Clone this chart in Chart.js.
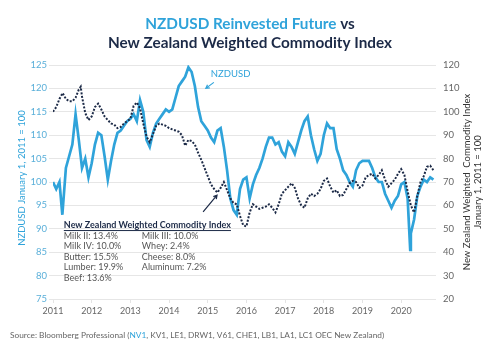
<!DOCTYPE html>
<html>
<head>
<meta charset="utf-8">
<script src="https://cdn.jsdelivr.net/npm/chart.js@4"></script>
<style>
  html, body { margin: 0; padding: 0; background: #fff; }
  #wrap { width: 500px; height: 347px; }
</style>
</head>
<body>
<div id="wrap"><canvas id="chart" width="500" height="347"></canvas></div>
<script>
// x ticks
const yearTicks = [2011, 2012, 2013, 2014, 2015, 2016, 2017, 2018, 2019, 2020];

// NZDUSD reinvested future (left axis), month offsets from Jan 2011
const nzdMonths = [0, 1, 2, 2.9, 4, 5, 6, 7, 8, 9, 10, 11, 12, 13, 14, 15, 16, 17, 18, 19,
  20, 21, 22, 23, 24, 25, 26, 27, 28, 29, 30, 31, 32, 33, 34, 35, 36, 37, 38, 39,
  40, 41, 42, 43, 44, 45, 46, 47, 48, 49, 50, 51, 52, 53, 54, 55, 56, 57, 58, 59,
  60, 61, 62, 63, 64, 65, 66, 67, 68, 69, 70, 71, 72, 73, 74, 75, 76, 77, 78, 79,
  80, 81, 82, 83, 84, 85, 86, 87, 88, 89, 90, 91, 92, 93, 94, 95, 96, 97, 98, 99,
  100, 101, 102, 103, 104, 105, 106, 107, 108, 109, 110, 110.8, 111, 112, 113, 114, 115, 116, 117, 118];
const nzdValues = [100, 98.5, 100, 93, 103, 105.5, 108, 114.5, 109, 103, 105, 101, 104, 108, 110.5, 110, 105.5, 100.5, 104.5, 108,
  110.5, 111, 112, 113, 113.5, 114.5, 113, 117.5, 115, 109, 107.5, 110.5, 112.5, 113.5, 114.5, 115.5, 115, 115.5, 118, 120.5,
  121.5, 122.5, 124.5, 123.5, 120.5, 116, 113, 112, 111, 109.5, 108.5, 111, 111.5, 107.5, 102.5, 96.5, 94, 93, 98.5, 100.5,
  101, 96.5, 99.5, 101.5, 103, 105, 107.5, 109.5, 109.5, 108, 108.5, 106.5, 105.5, 108.5, 107.5, 106, 108.5, 111, 113, 114,
  110, 107, 104.5, 106, 110, 112.5, 111.5, 111.5, 107, 105, 102.5, 101.5, 100, 99, 102.5, 104, 104.5, 104.5, 104.5, 103,
  101, 100, 100, 97.5, 96, 94.5, 96, 97, 99.5, 100, 96.5, 85.5, 89, 92, 97, 99, 100.5, 100, 101, 100.5];

// NZ weighted commodity index (right axis)
const cmdMonths = [0, 1, 2, 3, 4, 5, 6, 7, 8, 8.6, 9, 10, 11, 12, 13, 14, 15, 16, 17, 18, 19,
  20, 21, 22, 23, 24, 25, 26, 27, 28, 29, 30, 31, 32, 33, 34, 35, 36, 37, 38, 39,
  40, 41, 42, 43, 44, 45, 46, 47, 48, 49, 50, 51, 52, 53, 54, 55, 56, 57, 58, 59,
  60, 61, 62, 63, 64, 65, 66, 67, 68, 69, 70, 71, 72, 73, 74, 75, 76, 77, 78, 79,
  80, 81, 82, 83, 84, 85, 86, 87, 88, 89, 90, 91, 92, 93, 94, 95, 96, 97, 98, 99,
  100, 101, 102, 103, 104, 105, 106, 107, 108, 109, 110, 111, 112, 113, 114, 115, 116, 117, 118];
const cmdValues = [100, 102, 105.5, 108, 105.5, 104.5, 104.5, 106, 109.5, 110.7, 106.5, 99.5, 96.5, 98, 102, 103.5, 101, 98, 96.5, 95, 94.5,
  93, 93.5, 95, 96, 97, 102.5, 104, 101.5, 95, 89.5, 87, 90.5, 94, 95, 94.5, 94, 93, 92.5, 92, 91.5,
  90, 85.5, 88, 87.5, 86, 82.5, 79.5, 76, 72.5, 69, 67, 65.5, 67.5, 70, 66.5, 63, 61, 60.5, 55.5, 51.5,
  51, 57, 60.5, 59.5, 58.5, 59, 59.5, 60.5, 59, 57, 60.5, 65, 66.5, 68, 69.5, 67.5, 63, 60, 59, 63,
  65, 64, 65, 67, 70.5, 71.5, 68, 65.5, 66.5, 64, 64.5, 67, 69.5, 70.5, 70, 67.5, 68.5, 72, 73, 73.5,
  71.5, 73, 75, 71, 68, 69.5, 71, 73.5, 75.5, 73, 66, 60, 57, 64, 70, 72.5, 76.5, 77, 75];

// basket text
const basketCol1 = ['Milk II: 13.4%', 'Milk IV: 10.0%', 'Butter: 15.5%', 'Lumber: 19.9%', 'Beef: 13.6%'];
const basketCol2 = ['Milk III: 10.0%', 'Whey: 2.4%', 'Cheese: 8.0%', 'Aluminum: 7.2%'];

const BLUE = '#2fa3da';
const NAVY = '#1c2a47';
const GREY = '#666';
const FONT = 'Lato, "Open Sans", sans-serif';

const toPoints = (months, values) => months.map((m, i) => ({ x: 2011 + m / 12, y: values[i] }));

function arrow(ctx, x1, y1, x2, y2, color) {
  const a = Math.atan2(y2 - y1, x2 - x1);
  ctx.save();
  ctx.strokeStyle = color;
  ctx.lineWidth = 1.2;
  ctx.beginPath();
  ctx.moveTo(x1, y1);
  ctx.lineTo(x2, y2);
  ctx.moveTo(x2 - 4 * Math.cos(a - 0.5), y2 - 4 * Math.sin(a - 0.5));
  ctx.lineTo(x2, y2);
  ctx.lineTo(x2 - 4 * Math.cos(a + 0.5), y2 - 4 * Math.sin(a + 0.5));
  ctx.stroke();
  ctx.restore();
}

const decor = {
  id: 'decor',
  afterDraw(chart) {
    const { ctx, scales } = chart;
    const x = scales.x, y = scales.y, y2 = scales.y2;
    ctx.save();

    // title
    ctx.textBaseline = 'middle';
    ctx.font = 'bold 15.3px ' + FONT;
    const t1a = 'NZDUSD Reinvested Future', t1b = ' vs';
    const w1 = ctx.measureText(t1a + t1b).width;
    let sx = 250 - w1 / 2;
    ctx.textAlign = 'left';
    ctx.fillStyle = BLUE;
    ctx.fillText(t1a, sx, 24);
    ctx.fillStyle = NAVY;
    ctx.fillText(t1b, sx + ctx.measureText(t1a).width, 24);
    ctx.textAlign = 'center';
    ctx.fillText('New Zealand Weighted Commodity Index', 250, 43);

    // axis titles
    const midY = (chart.chartArea.top + chart.chartArea.bottom) / 2;
    ctx.font = '9.5px ' + FONT;
    ctx.save();
    ctx.translate(22, midY - 4);
    ctx.rotate(-Math.PI / 2);
    ctx.fillStyle = BLUE;
    ctx.fillText('NZDUSD January 1, 2011 = 100', 0, 0);
    ctx.restore();
    ctx.save();
    ctx.translate(467, midY);
    ctx.rotate(-Math.PI / 2);
    ctx.fillStyle = '#333';
    ctx.fillText('New Zealand Weighted  Commodity Index', 0, 0);
    ctx.fillText('January 1, 2011 = 100', 0, 11);
    ctx.restore();

    // NZDUSD label
    const lx = x.getPixelForValue(2015.08), ly = y.getPixelForValue(123);
    ctx.textAlign = 'left';
    ctx.fillStyle = BLUE;
    ctx.font = '9.5px ' + FONT;
    ctx.fillText('NZDUSD', lx, ly);
    arrow(ctx, lx + 3, ly + 8, lx - 5, ly + 14, BLUE);

    // commodity basket box
    const bx = x.getPixelForValue(2011.28), by = y.getPixelForValue(90.8);
    ctx.fillStyle = NAVY;
    ctx.font = 'bold 9px ' + FONT;
    ctx.fillText('New Zealand Weighted Commodity Index', bx, by);
    const tw = ctx.measureText('New Zealand Weighted Commodity Index').width;
    ctx.strokeStyle = NAVY;
    ctx.lineWidth = 1;
    ctx.beginPath();
    ctx.moveTo(bx, by + 5.5);
    ctx.lineTo(bx + tw, by + 5.5);
    ctx.stroke();
    ctx.font = '9px ' + FONT;
    ctx.fillStyle = '#555';
    basketCol1.forEach((s, i) => ctx.fillText(s, bx, by + 11 + i * 10.5));
    basketCol2.forEach((s, i) => ctx.fillText(s, bx + 78, by + 11 + i * 10.5));
    arrow(ctx, x.getPixelForValue(2014.88), y2.getPixelForValue(57.2),
      x.getPixelForValue(2015.24), y2.getPixelForValue(64.4), NAVY);

    // source
    ctx.font = '8.3px ' + FONT;
    ctx.textAlign = 'left';
    const s1 = 'Source: Bloomberg Professional (', s2 = 'NV1', s3 = ', KV1, LE1, DRW1, V61, CHE1, LB1, LA1, LC1 OEC New Zealand)';
    let px = 10;
    ctx.fillStyle = GREY;
    ctx.fillText(s1, px, 335);
    px += ctx.measureText(s1).width;
    ctx.fillStyle = BLUE;
    ctx.fillText(s2, px, 335);
    px += ctx.measureText(s2).width;
    ctx.fillStyle = GREY;
    ctx.fillText(s3, px, 335);
    ctx.restore();
  }
};

const ctx = document.getElementById('chart').getContext('2d');
new Chart(ctx, {
  type: 'line',
  data: {
    datasets: [
      { label: 'NZDUSD', data: toPoints(nzdMonths, nzdValues), borderColor: BLUE, borderWidth: 2.7,
        pointRadius: 0, tension: 0, yAxisID: 'y', order: 2 },
      { label: 'NZ Weighted Commodity Index', data: toPoints(cmdMonths, cmdValues), borderColor: NAVY, borderWidth: 2,
        borderDash: [2, 1.6], pointRadius: 0, tension: 0, yAxisID: 'y2', order: 1 }
    ]
  },
  options: {
    responsive: false,
    animation: false,
    devicePixelRatio: 1,
    layout: { padding: { top: 65, left: 0, right: 0, bottom: 0 } },
    plugins: { legend: { display: false }, tooltip: { enabled: false } },
    scales: {
      x: {
        type: 'linear', min: 2011, max: 2020.9,
        afterBuildTicks: (s) => { s.ticks = yearTicks.map(v => ({ value: v })); },
        afterFit: (s) => { s.height = 48; },
        grid: { drawOnChartArea: false, color: '#e4e4e4', tickLength: 4 },
        border: { display: false },
        ticks: { color: GREY, font: { family: FONT, size: 9 }, padding: 3, maxRotation: 0,
          callback: (v) => String(v) }
      },
      y: {
        position: 'left', min: 75, max: 125,
        afterFit: (s) => { s.width = 53; },
        grid: { color: '#e6e6e6', tickLength: 4 },
        border: { display: false },
        ticks: { stepSize: 5, color: '#5aafd9', font: { family: FONT, size: 9.5 }, padding: 2 }
      },
      y2: {
        position: 'right', min: 20, max: 120,
        afterFit: (s) => { s.width = 64; },
        grid: { drawOnChartArea: false, drawTicks: false },
        border: { display: false },
        ticks: { stepSize: 10, color: GREY, font: { family: FONT, size: 9.5 }, padding: 7 }
      }
    }
  },
  plugins: [decor]
});
</script>
</body>
</html>
